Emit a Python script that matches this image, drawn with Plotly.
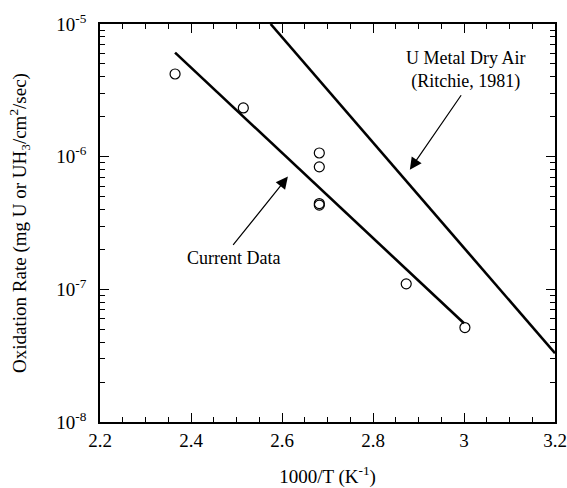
import plotly.graph_objects as go

# Measured data points (1000/T, oxidation rate)
pts_x = [2.365, 2.515, 2.682, 2.682, 2.682, 2.682, 2.873, 3.002]
pts_y = [4.2e-6, 2.33e-6, 1.066e-6, 8.38e-7, 4.43e-7, 4.31e-7, 1.10e-7, 5.15e-8]

# Fit line through current data
fit_x = [2.365, 3.0]
fit_y = [6.08e-6, 5.55e-8]

# U metal dry air (Ritchie, 1981)
rit_x = [2.575, 3.2]
rit_y = [1.0e-5, 3.3e-8]

y_tickvals = [1e-8, 1e-7, 1e-6, 1e-5]
y_ticktext = ["10<sup>-8</sup>", "10<sup>-7</sup>", "10<sup>-6</sup>", "10<sup>-5</sup>"]
y_minor = [k * 10.0 ** e for e in (-8, -7, -6) for k in range(2, 10)]

FONT = "Liberation Serif"

fig = go.Figure()
fig.add_trace(go.Scatter(x=fit_x, y=fit_y, mode="lines",
                         line=dict(color="black", width=2.6), showlegend=False))
fig.add_trace(go.Scatter(x=rit_x, y=rit_y, mode="lines",
                         line=dict(color="black", width=2.6), showlegend=False))
fig.add_trace(go.Scatter(x=pts_x, y=pts_y, mode="markers",
                         marker=dict(symbol="circle-open", size=10, color="black",
                                     line=dict(width=1.2, color="black")),
                         showlegend=False))

fig.update_layout(
    width=567, height=488,
    margin=dict(l=100, r=12, t=24, b=66),
    paper_bgcolor="white", plot_bgcolor="white",
    font=dict(family=FONT, size=19, color="black"),
    xaxis=dict(
        range=[2.2, 3.2], dtick=0.2, tick0=2.2, automargin=False,
        ticks="inside", ticklen=9, tickwidth=1.2, tickcolor="black",
        showline=True, linecolor="black", linewidth=1.5, mirror="ticks",
        showgrid=False, zeroline=False,
        minor=dict(dtick=0.05, ticks="inside", ticklen=5, tickwidth=1, tickcolor="black", showgrid=False),
        title=dict(text="1000/T (K<sup>-1</sup>)", font=dict(size=19), standoff=20),
        tickfont=dict(size=19),
    ),
    yaxis=dict(
        type="log", range=[-8, -5], automargin=False,
        tickmode="array", tickvals=y_tickvals, ticktext=y_ticktext,
        ticks="inside", ticklen=9, tickwidth=1.2, tickcolor="black",
        showline=True, linecolor="black", linewidth=1.5, mirror="ticks",
        showgrid=False, zeroline=False,
        minor=dict(tickmode="array", tickvals=y_minor, ticks="inside", ticklen=5,
                   tickwidth=1, tickcolor="black", showgrid=False),
        title=dict(text="Oxidation Rate (mg U or UH<sub>3</sub>/cm<sup>2</sup>/sec)",
                   font=dict(size=19), standoff=25),
        tickfont=dict(size=19),
        ticklabelstandoff=8,
    ),
)

# Annotations
fig.add_annotation(x=3.004, y=-5.346, xref="x", yref="y",
                   text="U Metal Dry Air<br>(Ritchie, 1981)", showarrow=False,
                   font=dict(size=18, family=FONT), xanchor="center", yanchor="middle")
fig.add_annotation(x=2.881, y=-6.098, ax=2.996, ay=-5.526, xref="x", yref="y",
                   axref="x", ayref="y", text="", showarrow=True,
                   arrowhead=2, arrowsize=2, arrowwidth=1.2, arrowcolor="black", standoff=0)
fig.add_annotation(x=2.494, y=-6.767, xref="x", yref="y",
                   text="Current Data", showarrow=False,
                   font=dict(size=18, family=FONT), xanchor="center", yanchor="middle")
fig.add_annotation(x=2.613, y=-6.150, ax=2.490, ay=-6.677, xref="x", yref="y",
                   axref="x", ayref="y", text="", showarrow=True,
                   arrowhead=2, arrowsize=2, arrowwidth=1.2, arrowcolor="black", standoff=0)

fig.write_html("out.html")
